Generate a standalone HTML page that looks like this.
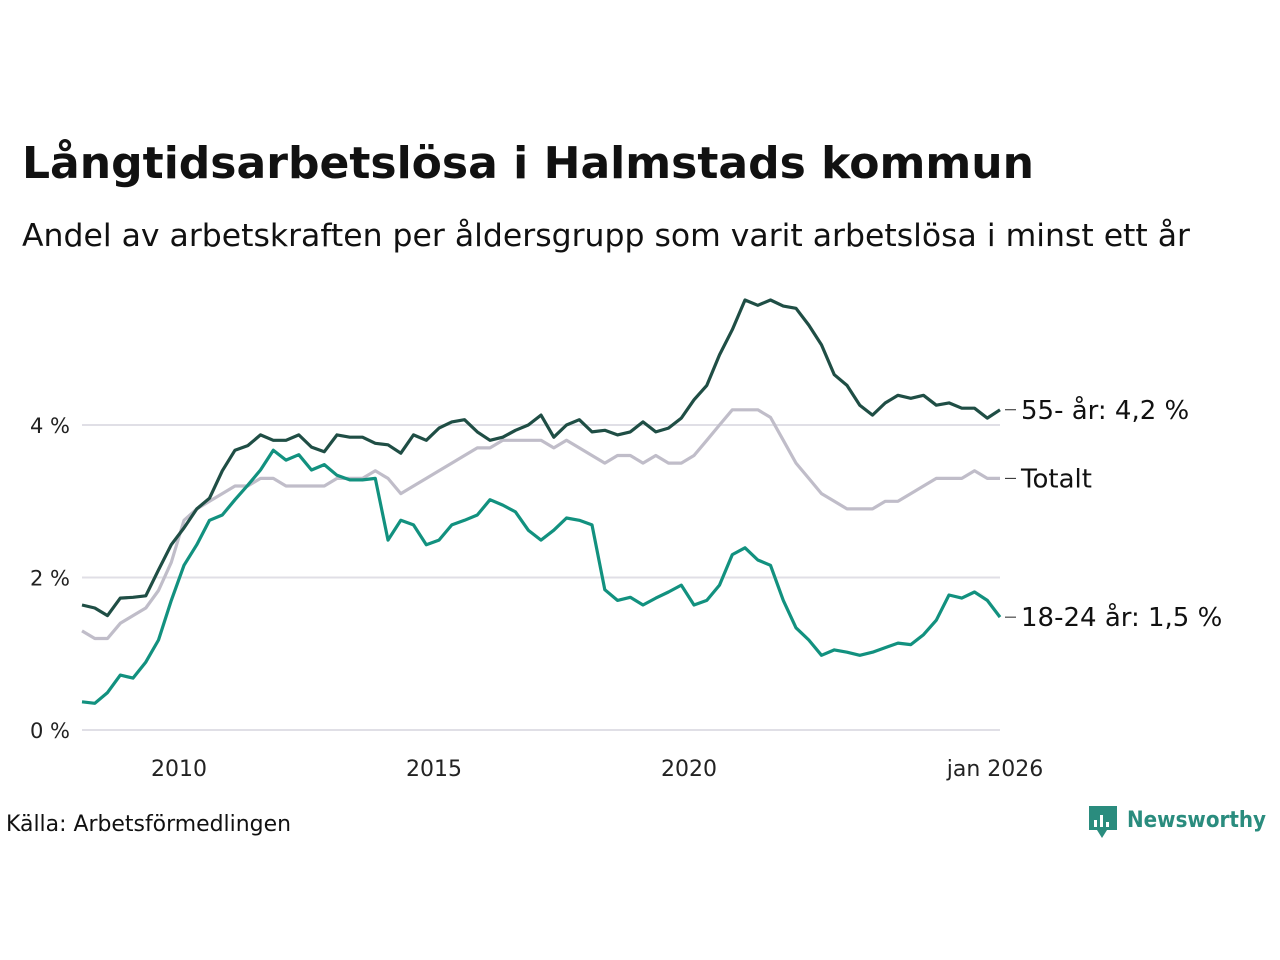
<!DOCTYPE html>
<html><head><meta charset="utf-8"><style>
body{margin:0;background:#fff;font-family:"Liberation Sans","DejaVu Sans",sans-serif;}
#wrap{position:relative;width:1280px;height:960px;overflow:hidden;}
</style></head><body>
<div id="wrap">
<svg id="chart" width="1280" height="960">
<text x="22" y="178" font-size="44" font-weight="bold" fill="#111" font-family="DejaVu Sans, sans-serif" textLength="1012" lengthAdjust="spacingAndGlyphs">Långtidsarbetslösa i Halmstads kommun</text>
<text x="22" y="246" font-size="31" fill="#111" font-family="DejaVu Sans, sans-serif" textLength="1168" lengthAdjust="spacingAndGlyphs">Andel av arbetskraften per åldersgrupp som varit arbetslösa i minst ett år</text>
<g id="grid"></g><g id="lines"></g><g id="labels"></g>
<text x="6" y="831" font-size="22" fill="#111" font-family="DejaVu Sans, sans-serif" textLength="285" lengthAdjust="spacingAndGlyphs">Källa: Arbetsförmedlingen</text>
<g>
<path d="M1089 806h28v24h-10l-5 8-5-8h-8z" fill="#2a8c7e"/>
<rect x="1094" y="820" width="3" height="7" fill="#fff"/><rect x="1100" y="815" width="3" height="12" fill="#fff"/><rect x="1106" y="822" width="3" height="5" fill="#fff"/>
<text x="1127" y="827" font-size="22" font-weight="bold" fill="#2a8c7e" font-family="DejaVu Sans, sans-serif" textLength="139" lengthAdjust="spacingAndGlyphs">Newsworthy</text>
</g>
</svg>
</div>
<script>
const startYear = 2008, endYear = 2026;
const xTicks = [2010, 2015, 2020, 2026];
const xTickLabels = ["2010", "2015", "2020", "jan 2026"];
const yTicks = [0, 2, 4];
const yTickLabels = ["0 %", "2 %", "4 %"];
const seriesNames = ["55- år: 4,2 %", "Totalt", "18-24 år: 1,5 %"];
const old55 = [1.64,1.6,1.5,1.73,1.74,1.76,2.1,2.43,2.65,2.9,3.04,3.4,3.67,3.73,3.87,3.8,3.8,3.87,3.71,3.65,3.87,3.84,3.84,3.76,3.74,3.63,3.87,3.8,3.96,4.04,4.07,3.91,3.8,3.84,3.93,4.0,4.13,3.84,4.0,4.07,3.91,3.93,3.87,3.91,4.04,3.91,3.96,4.09,4.33,4.52,4.92,5.25,5.64,5.57,5.64,5.56,5.53,5.31,5.05,4.66,4.52,4.26,4.13,4.29,4.39,4.35,4.39,4.26,4.29,4.22,4.22,4.09,4.2];
const total = [1.3,1.2,1.2,1.4,1.5,1.6,1.83,2.2,2.75,2.9,3.0,3.1,3.2,3.2,3.3,3.3,3.2,3.2,3.2,3.2,3.3,3.3,3.3,3.4,3.3,3.1,3.2,3.3,3.4,3.5,3.6,3.7,3.7,3.8,3.8,3.8,3.8,3.7,3.8,3.7,3.6,3.5,3.6,3.6,3.5,3.6,3.5,3.5,3.6,3.8,4.0,4.2,4.2,4.2,4.1,3.8,3.5,3.3,3.1,3.0,2.9,2.9,2.9,3.0,3.0,3.1,3.2,3.3,3.3,3.3,3.4,3.3,3.3];
const youth = [0.37,0.35,0.49,0.72,0.68,0.89,1.18,1.7,2.16,2.43,2.75,2.82,3.02,3.21,3.41,3.67,3.54,3.61,3.41,3.48,3.34,3.28,3.28,3.3,2.49,2.75,2.69,2.43,2.49,2.69,2.75,2.82,3.02,2.95,2.86,2.62,2.49,2.62,2.78,2.75,2.69,1.84,1.7,1.74,1.64,1.73,1.81,1.9,1.64,1.7,1.9,2.3,2.39,2.23,2.16,1.7,1.34,1.18,0.98,1.05,1.02,0.98,1.02,1.08,1.14,1.12,1.25,1.44,1.77,1.73,1.81,1.7,1.48];

const X0=82, X1=1000, Y0=730, PX_PER=76.25;
const xScale = t => X0 + (t-startYear)/(endYear-startYear)*(X1-X0);
const yScale = v => Y0 - v*PX_PER;
const NS="http://www.w3.org/2000/svg";
const grid=document.getElementById('grid'), lines=document.getElementById('lines'), labels=document.getElementById('labels');
function mk(tag, attrs, parent){const e=document.createElementNS(NS,tag);for(const k in attrs)e.setAttribute(k,attrs[k]);parent.appendChild(e);return e;}
yTicks.forEach((v,i)=>{
  const l=mk('line',{x1:X0,x2:X1,y1:yScale(v),y2:yScale(v),stroke:'#e0dfe6','stroke-width':2},grid);
  
  
  const t=mk('text',{x:70,y:yScale(v)+8,'text-anchor':'end','font-size':21,fill:'#222','font-family':'DejaVu Sans, sans-serif'},grid);
  t.textContent=yTickLabels[i];
  
  
});
xTicks.forEach((v,i)=>{
  const t=mk('text',{x:xScale(v)-5,y:776,'text-anchor':'middle','font-size':22,fill:'#222','font-family':'DejaVu Sans, sans-serif'},grid);
  t.textContent=xTickLabels[i];
  
  
});
const series=[[total,'#c0bdc9','total-line'],[old55,'#1f4e45','age-55-line'],[youth,'#12917f','age-18-24-line']];
series.forEach(([d,c,n])=>{
  const step=(endYear-startYear)/(d.length-1);
  const pts=d.map((v,i)=>xScale(startYear+i*step).toFixed(1)+','+yScale(v).toFixed(1)).join(' ');
  const p=mk('polyline',{points:pts,fill:'none',stroke:c,'stroke-width':3.2,'stroke-linejoin':'round'},lines);
  
  
});
[[old55,0],[total,1],[youth,2]].forEach(([d,i])=>{
  const y=yScale(d[d.length-1]);
  mk('line',{x1:1005,x2:1016,y1:y,y2:y,stroke:'#222','stroke-width':1},labels);
  const t=mk('text',{x:1021,y:y+9,'font-size':26,fill:'#111','font-family':'DejaVu Sans, sans-serif'},labels);
  t.textContent=seriesNames[i];
  
  
});
</script>
</body></html>
